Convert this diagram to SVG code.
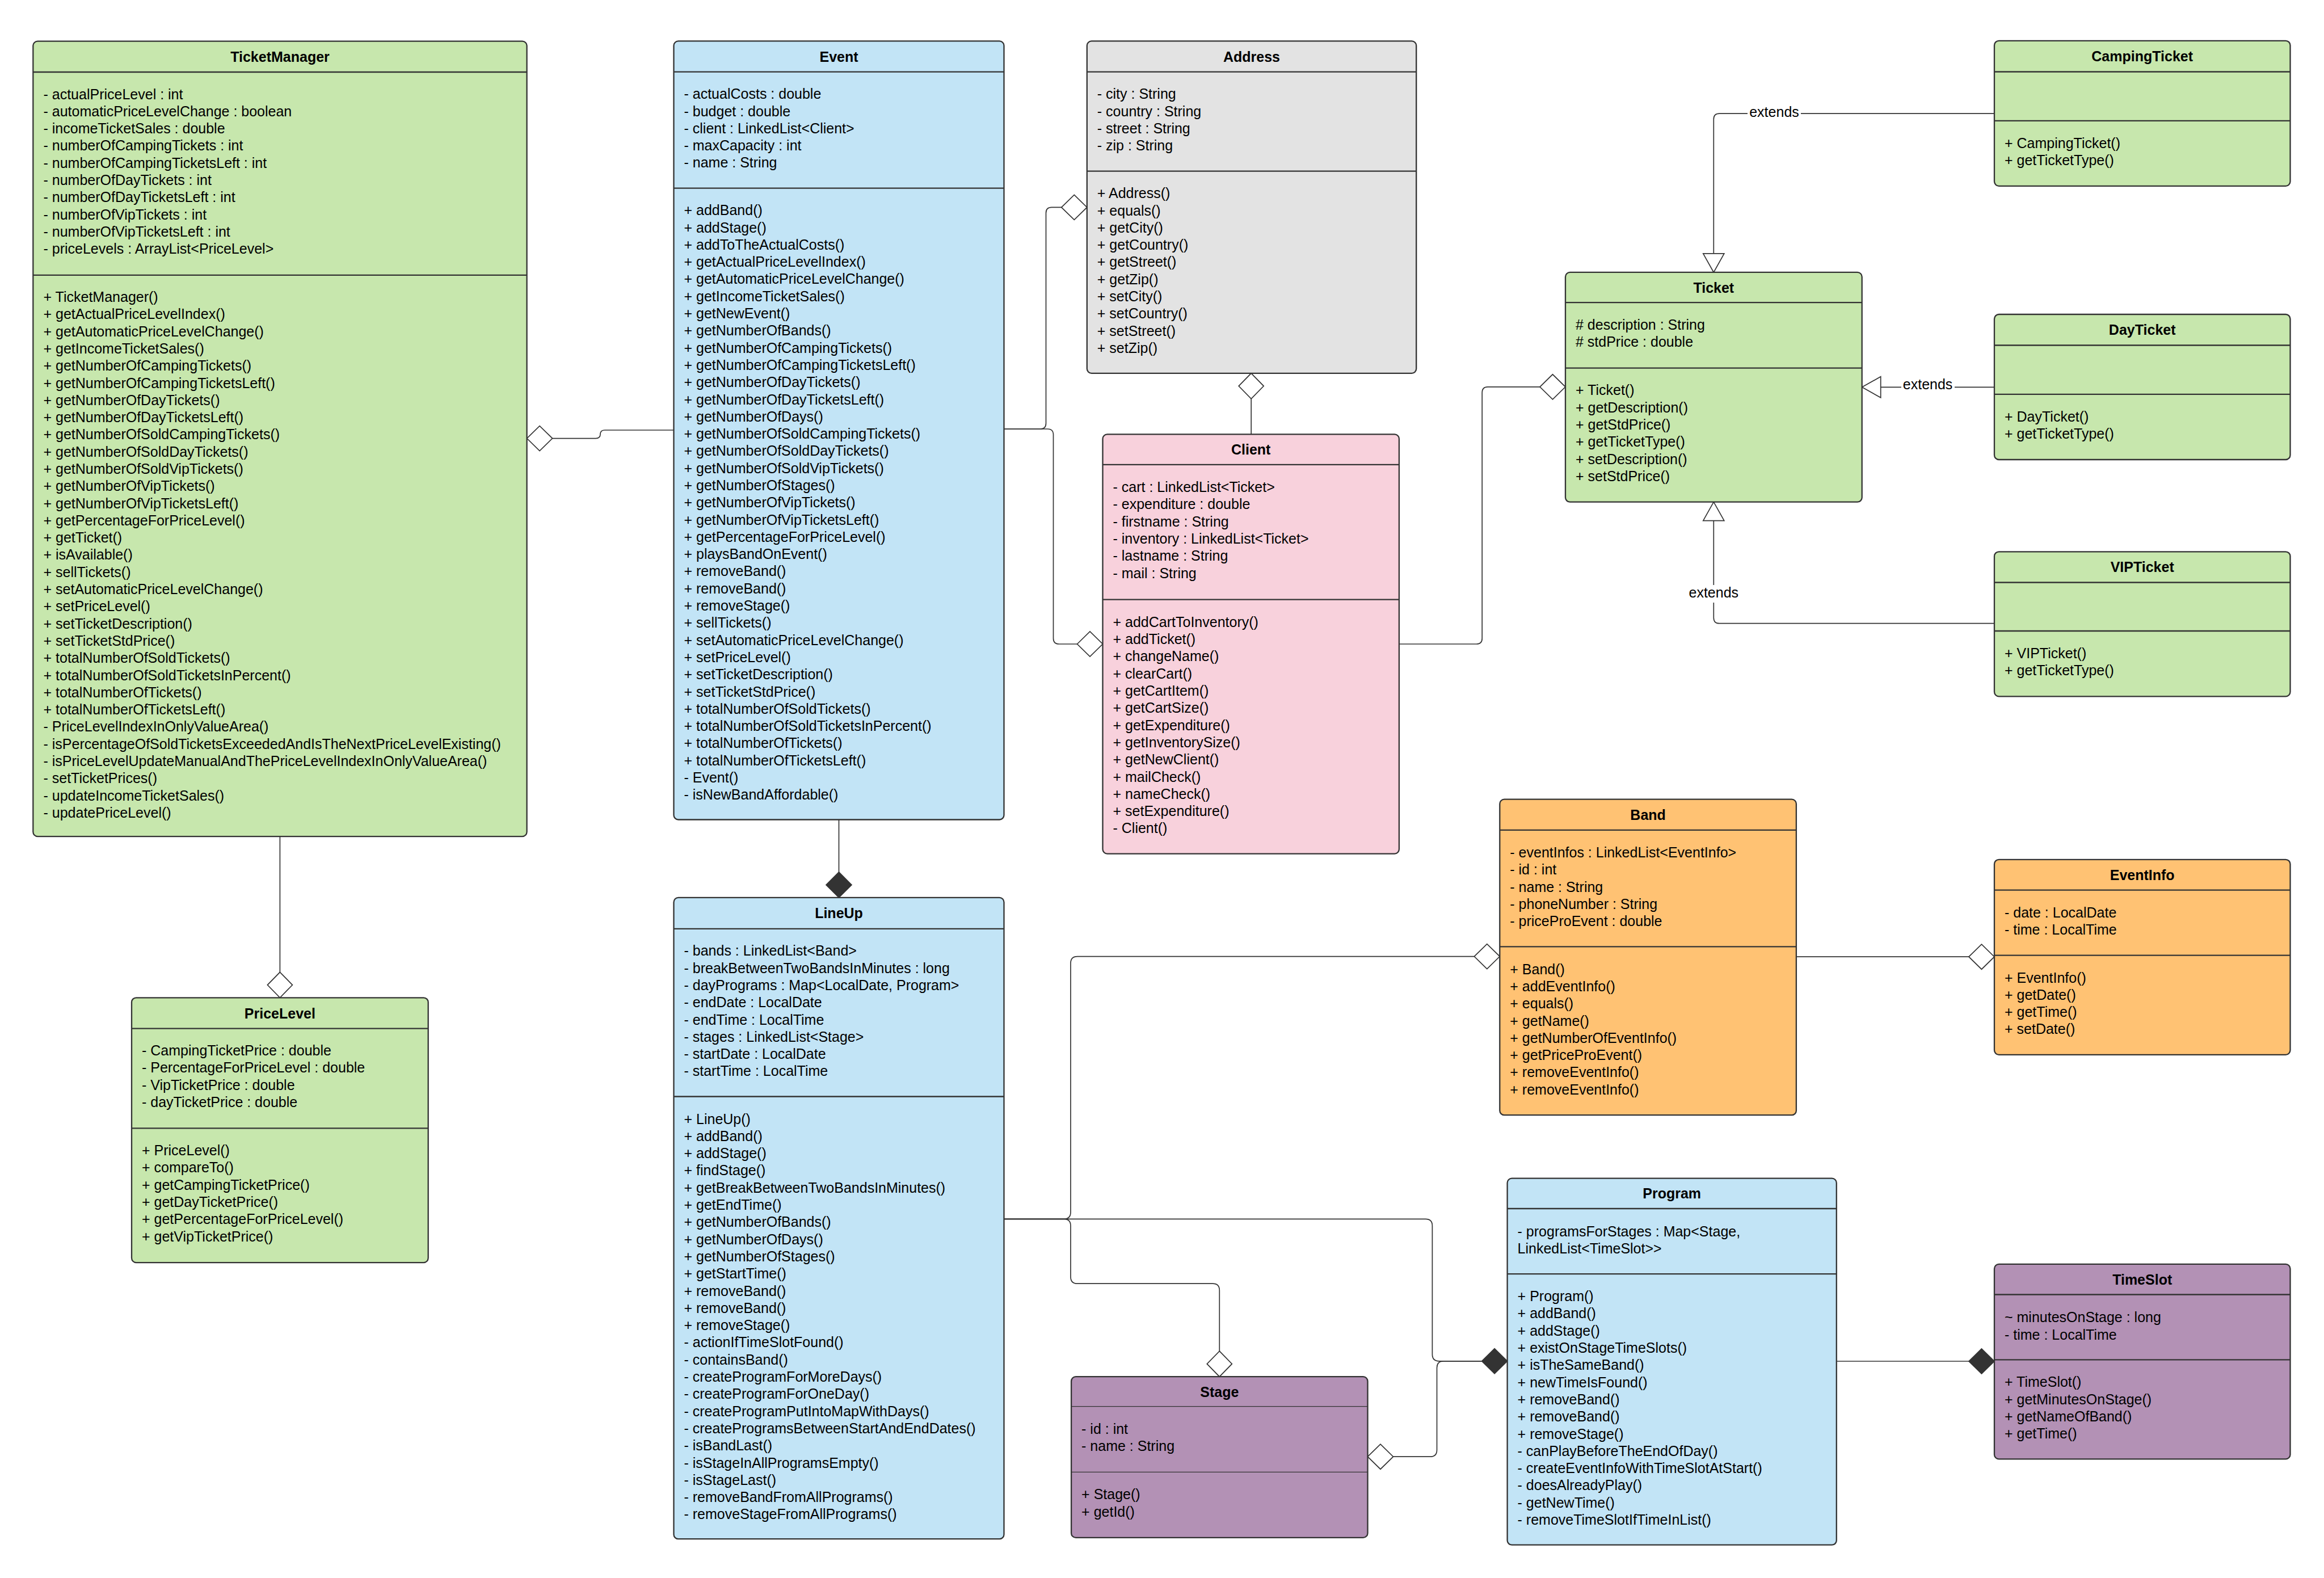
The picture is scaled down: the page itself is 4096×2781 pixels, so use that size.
<svg xmlns="http://www.w3.org/2000/svg" width="4096" height="2781" viewBox="0 0 4096 2781">
<style>
.box{stroke:#333;stroke-width:2.3}
.sep{stroke:#333;stroke-width:2.3}
.thin{stroke:#333;stroke-width:1.2}
.green{fill:#C7E7AD}
.blue{fill:#C2E4F6}
.gray{fill:#E3E3E3}
.pink{fill:#F8D1DC}
.orange{fill:#FFC273}
.purple{fill:#B391B5}
text{font-family:"Liberation Sans",Arial,Helvetica,sans-serif;font-size:25px;fill:#000}
.title{font-weight:bold;text-anchor:middle}
.lbl{text-anchor:middle}
.conn{fill:none;stroke:#333;stroke-width:1.7}
.hollow{fill:#fff;stroke:#333;stroke-width:1.7}
.filled{fill:#333;stroke:#333;stroke-width:1.7}
</style>
<rect x="0" y="0" width="4096" height="2781" fill="#fff"/>

<g id="connectors">
<path class="conn" d="M973.6,772.6 H1050 Q1058,772.6 1058,765.3 Q1058,758 1066,758 H1187.5"/>
<polygon class="hollow" points="928.6,772.6 951.1,750.6 973.6,772.6 951.1,794.6"/>
<path class="conn" d="M1769.5,756 H1833.5 Q1843.5,756 1843.5,746 V375.4 Q1843.5,365.4 1853.5,365.4 H1870.8"/>
<polygon class="hollow" points="1870.8,365.4 1893.3,343.4 1915.8,365.4 1893.3,387.4"/>
<path class="conn" d="M1769.5,756 H1846.5 Q1856.5,756 1856.5,766 V1125 Q1856.5,1135 1866.5,1135 H1898.5"/>
<polygon class="hollow" points="1898.5,1135 1921,1113 1943.5,1135 1921,1157"/>
<path class="conn" d="M2205.2,702.8 V765.4"/>
<polygon class="hollow" points="2205.2,657.8 2227.2,680.3 2205.2,702.8 2183.2,680.3"/>
<path class="conn" d="M2465.9,1135 H2602.2 Q2612.2,1135 2612.2,1125 V691.8 Q2612.2,681.8 2622.2,681.8 H2714"/>
<polygon class="hollow" points="2714,681.8 2736.5,659.8 2759,681.8 2736.5,703.8"/>
<path class="conn" d="M3515,200.1 H3030.3 Q3020.3,200.1 3020.3,210.1 V446.9"/>
<polygon class="hollow" points="3001.8,446.9 3038.8,446.9 3020.3,479.9"/>
<rect x="3080" y="186" width="94" height="28" fill="#fff"/>
<text class="lbl" x="3127" y="205.5">extends</text>
<path class="conn" d="M3515,682.3 H3314.7"/>
<polygon class="hollow" points="3314.7,663.8 3314.7,700.8 3281.7,682.3"/>
<rect x="3351" y="668" width="94" height="28" fill="#fff"/>
<text class="lbl" x="3397.6" y="686.4">extends</text>
<path class="conn" d="M3515,1098.7 H3030.3 Q3020.3,1098.7 3020.3,1088.7 V917.7"/>
<polygon class="hollow" points="3001.8,917.7 3038.8,917.7 3020.3,884.7"/>
<rect x="2973" y="1031" width="95" height="31" fill="#fff"/>
<text class="lbl" x="3020.3" y="1053.4">extends</text>
<path class="conn" d="M493.4,1474.1 V1713.3"/>
<polygon class="hollow" points="493.4,1713.3 515.4,1735.8 493.4,1758.3 471.4,1735.8"/>
<path class="conn" d="M1478.5,1444.5 V1536.9"/>
<polygon class="filled" points="1478.5,1536.9 1501,1559.4 1478.5,1581.9 1456,1559.4"/>
<path class="conn" d="M1769.5,2148.3 H1875 Q1887,2148.3 1887,2136.3 V1697.6 Q1887,1685.6 1899,1685.6 H2598.3"/>
<polygon class="hollow" points="2598.3,1685.6 2620.8,1663.6 2643.3,1685.6 2620.8,1707.6"/>
<path class="conn" d="M1769.5,2148.3 H1875 Q1887,2148.3 1887,2160.3 V2250.2 Q1887,2262.2 1899,2262.2 H2137.3 Q2149.3,2262.2 2149.3,2274.2 V2381.2"/>
<polygon class="hollow" points="2149.3,2381.2 2171.3,2403.7 2149.3,2426.2 2127.3,2403.7"/>
<path class="conn" d="M1769.5,2148.3 H2512.4 Q2524.4,2148.3 2524.4,2160.3 V2386.8 Q2524.4,2398.8 2536.4,2398.8 H2611.6"/>
<path class="conn" d="M2455.5,2567.2 H2520.5 Q2532.5,2567.2 2532.5,2555.2 V2410.8 Q2532.5,2398.8 2544.5,2398.8 H2611.6"/>
<polygon class="hollow" points="2410.5,2567.2 2433,2545.2 2455.5,2567.2 2433,2589.2"/>
<polygon class="filled" points="2611.6,2398.8 2634.1,2376.8 2656.6,2398.8 2634.1,2420.8"/>
<path class="conn" d="M3165.9,1686.2 H3470"/>
<polygon class="hollow" points="3470,1686.2 3492.5,1664.2 3515,1686.2 3492.5,1708.2"/>
<path class="conn" d="M3236.8,2399 H3470"/>
<polygon class="filled" points="3470,2399 3492.5,2377 3515,2399 3492.5,2421"/>
</g>

<g id="TicketManager">
<rect class="box green" x="58.3" y="72.6" width="870.3" height="1401.5" rx="8"/>
<line class="sep" x1="58.3" y1="127" x2="928.6" y2="127"/>
<line class="sep" x1="58.3" y1="484.8" x2="928.6" y2="484.8"/>
<text class="title" x="493.5" y="108.8">TicketManager</text>
<text x="76.5" y="174.5"><tspan x="76.5">- actualPriceLevel : int</tspan><tspan x="76.5" dy="30.3">- automaticPriceLevelChange : boolean</tspan><tspan x="76.5" dy="30.3">- incomeTicketSales : double</tspan><tspan x="76.5" dy="30.3">- numberOfCampingTickets : int</tspan><tspan x="76.5" dy="30.3">- numberOfCampingTicketsLeft : int</tspan><tspan x="76.5" dy="30.3">- numberOfDayTickets : int</tspan><tspan x="76.5" dy="30.3">- numberOfDayTicketsLeft : int</tspan><tspan x="76.5" dy="30.3">- numberOfVipTickets : int</tspan><tspan x="76.5" dy="30.3">- numberOfVipTicketsLeft : int</tspan><tspan x="76.5" dy="30.3">- priceLevels : ArrayList&lt;PriceLevel&gt;</tspan></text>
<text x="76.5" y="532"><tspan x="76.5">+ TicketManager()</tspan><tspan x="76.5" dy="30.3">+ getActualPriceLevelIndex()</tspan><tspan x="76.5" dy="30.3">+ getAutomaticPriceLevelChange()</tspan><tspan x="76.5" dy="30.3">+ getIncomeTicketSales()</tspan><tspan x="76.5" dy="30.3">+ getNumberOfCampingTickets()</tspan><tspan x="76.5" dy="30.3">+ getNumberOfCampingTicketsLeft()</tspan><tspan x="76.5" dy="30.3">+ getNumberOfDayTickets()</tspan><tspan x="76.5" dy="30.3">+ getNumberOfDayTicketsLeft()</tspan><tspan x="76.5" dy="30.3">+ getNumberOfSoldCampingTickets()</tspan><tspan x="76.5" dy="30.3">+ getNumberOfSoldDayTickets()</tspan><tspan x="76.5" dy="30.3">+ getNumberOfSoldVipTickets()</tspan><tspan x="76.5" dy="30.3">+ getNumberOfVipTickets()</tspan><tspan x="76.5" dy="30.3">+ getNumberOfVipTicketsLeft()</tspan><tspan x="76.5" dy="30.3">+ getPercentageForPriceLevel()</tspan><tspan x="76.5" dy="30.3">+ getTicket()</tspan><tspan x="76.5" dy="30.3">+ isAvailable()</tspan><tspan x="76.5" dy="30.3">+ sellTickets()</tspan><tspan x="76.5" dy="30.3">+ setAutomaticPriceLevelChange()</tspan><tspan x="76.5" dy="30.3">+ setPriceLevel()</tspan><tspan x="76.5" dy="30.3">+ setTicketDescription()</tspan><tspan x="76.5" dy="30.3">+ setTicketStdPrice()</tspan><tspan x="76.5" dy="30.3">+ totalNumberOfSoldTickets()</tspan><tspan x="76.5" dy="30.3">+ totalNumberOfSoldTicketsInPercent()</tspan><tspan x="76.5" dy="30.3">+ totalNumberOfTickets()</tspan><tspan x="76.5" dy="30.3">+ totalNumberOfTicketsLeft()</tspan><tspan x="76.5" dy="30.3">- PriceLevelIndexInOnlyValueArea()</tspan><tspan x="76.5" dy="30.3">- isPercentageOfSoldTicketsExceededAndIsTheNextPriceLevelExisting()</tspan><tspan x="76.5" dy="30.3">- isPriceLevelUpdateManualAndThePriceLevelIndexInOnlyValueArea()</tspan><tspan x="76.5" dy="30.3">- setTicketPrices()</tspan><tspan x="76.5" dy="30.3">- updateIncomeTicketSales()</tspan><tspan x="76.5" dy="30.3">- updatePriceLevel()</tspan></text>
</g>

<g id="PriceLevel">
<rect class="box green" x="232" y="1758.3" width="522.7" height="466.8" rx="8"/>
<line class="sep" x1="232" y1="1812.6" x2="754.7" y2="1812.6"/>
<line class="sep" x1="232" y1="1988.4" x2="754.7" y2="1988.4"/>
<text class="title" x="493.4" y="1794.5">PriceLevel</text>
<text x="250" y="1860"><tspan x="250">- CampingTicketPrice : double</tspan><tspan x="250" dy="30.3">- PercentageForPriceLevel : double</tspan><tspan x="250" dy="30.3">- VipTicketPrice : double</tspan><tspan x="250" dy="30.3">- dayTicketPrice : double</tspan></text>
<text x="250" y="2036.1"><tspan x="250">+ PriceLevel()</tspan><tspan x="250" dy="30.3">+ compareTo()</tspan><tspan x="250" dy="30.3">+ getCampingTicketPrice()</tspan><tspan x="250" dy="30.3">+ getDayTicketPrice()</tspan><tspan x="250" dy="30.3">+ getPercentageForPriceLevel()</tspan><tspan x="250" dy="30.3">+ getVipTicketPrice()</tspan></text>
</g>

<g id="Event">
<rect class="box blue" x="1187.5" y="72.4" width="582" height="1372.1" rx="8"/>
<line class="sep" x1="1187.5" y1="126.7" x2="1769.5" y2="126.7"/>
<line class="sep" x1="1187.5" y1="331.7" x2="1769.5" y2="331.7"/>
<text class="title" x="1478.5" y="108.5">Event</text>
<text x="1205.5" y="174.2"><tspan x="1205.5">- actualCosts : double</tspan><tspan x="1205.5" dy="30.3">- budget : double</tspan><tspan x="1205.5" dy="30.3">- client : LinkedList&lt;Client&gt;</tspan><tspan x="1205.5" dy="30.3">- maxCapacity : int</tspan><tspan x="1205.5" dy="30.3">- name : String</tspan></text>
<text x="1205.5" y="379.2"><tspan x="1205.5">+ addBand()</tspan><tspan x="1205.5" dy="30.3">+ addStage()</tspan><tspan x="1205.5" dy="30.3">+ addToTheActualCosts()</tspan><tspan x="1205.5" dy="30.3">+ getActualPriceLevelIndex()</tspan><tspan x="1205.5" dy="30.3">+ getAutomaticPriceLevelChange()</tspan><tspan x="1205.5" dy="30.3">+ getIncomeTicketSales()</tspan><tspan x="1205.5" dy="30.3">+ getNewEvent()</tspan><tspan x="1205.5" dy="30.3">+ getNumberOfBands()</tspan><tspan x="1205.5" dy="30.3">+ getNumberOfCampingTickets()</tspan><tspan x="1205.5" dy="30.3">+ getNumberOfCampingTicketsLeft()</tspan><tspan x="1205.5" dy="30.3">+ getNumberOfDayTickets()</tspan><tspan x="1205.5" dy="30.3">+ getNumberOfDayTicketsLeft()</tspan><tspan x="1205.5" dy="30.3">+ getNumberOfDays()</tspan><tspan x="1205.5" dy="30.3">+ getNumberOfSoldCampingTickets()</tspan><tspan x="1205.5" dy="30.3">+ getNumberOfSoldDayTickets()</tspan><tspan x="1205.5" dy="30.3">+ getNumberOfSoldVipTickets()</tspan><tspan x="1205.5" dy="30.3">+ getNumberOfStages()</tspan><tspan x="1205.5" dy="30.3">+ getNumberOfVipTickets()</tspan><tspan x="1205.5" dy="30.3">+ getNumberOfVipTicketsLeft()</tspan><tspan x="1205.5" dy="30.3">+ getPercentageForPriceLevel()</tspan><tspan x="1205.5" dy="30.3">+ playsBandOnEvent()</tspan><tspan x="1205.5" dy="30.3">+ removeBand()</tspan><tspan x="1205.5" dy="30.3">+ removeBand()</tspan><tspan x="1205.5" dy="30.3">+ removeStage()</tspan><tspan x="1205.5" dy="30.3">+ sellTickets()</tspan><tspan x="1205.5" dy="30.3">+ setAutomaticPriceLevelChange()</tspan><tspan x="1205.5" dy="30.3">+ setPriceLevel()</tspan><tspan x="1205.5" dy="30.3">+ setTicketDescription()</tspan><tspan x="1205.5" dy="30.3">+ setTicketStdPrice()</tspan><tspan x="1205.5" dy="30.3">+ totalNumberOfSoldTickets()</tspan><tspan x="1205.5" dy="30.3">+ totalNumberOfSoldTicketsInPercent()</tspan><tspan x="1205.5" dy="30.3">+ totalNumberOfTickets()</tspan><tspan x="1205.5" dy="30.3">+ totalNumberOfTicketsLeft()</tspan><tspan x="1205.5" dy="30.3">- Event()</tspan><tspan x="1205.5" dy="30.3">- isNewBandAffordable()</tspan></text>
</g>

<g id="Address">
<rect class="box gray" x="1915.8" y="72.4" width="580.4" height="585.4" rx="8"/>
<line class="sep" x1="1915.8" y1="126.7" x2="2496.2" y2="126.7"/>
<line class="sep" x1="1915.8" y1="301.7" x2="2496.2" y2="301.7"/>
<text class="title" x="2206" y="108.5">Address</text>
<text x="1933.8" y="174.2"><tspan x="1933.8">- city : String</tspan><tspan x="1933.8" dy="30.3">- country : String</tspan><tspan x="1933.8" dy="30.3">- street : String</tspan><tspan x="1933.8" dy="30.3">- zip : String</tspan></text>
<text x="1933.8" y="349.2"><tspan x="1933.8">+ Address()</tspan><tspan x="1933.8" dy="30.3">+ equals()</tspan><tspan x="1933.8" dy="30.3">+ getCity()</tspan><tspan x="1933.8" dy="30.3">+ getCountry()</tspan><tspan x="1933.8" dy="30.3">+ getStreet()</tspan><tspan x="1933.8" dy="30.3">+ getZip()</tspan><tspan x="1933.8" dy="30.3">+ setCity()</tspan><tspan x="1933.8" dy="30.3">+ setCountry()</tspan><tspan x="1933.8" dy="30.3">+ setStreet()</tspan><tspan x="1933.8" dy="30.3">+ setZip()</tspan></text>
</g>

<g id="Client">
<rect class="box pink" x="1943.5" y="765.4" width="522.4" height="739.2" rx="8"/>
<line class="sep" x1="1943.5" y1="818.9" x2="2465.9" y2="818.9"/>
<line class="sep" x1="1943.5" y1="1056.6" x2="2465.9" y2="1056.6"/>
<text class="title" x="2204.7" y="801">Client</text>
<text x="1961.5" y="867.1"><tspan x="1961.5">- cart : LinkedList&lt;Ticket&gt;</tspan><tspan x="1961.5" dy="30.3">- expenditure : double</tspan><tspan x="1961.5" dy="30.3">- firstname : String</tspan><tspan x="1961.5" dy="30.3">- inventory : LinkedList&lt;Ticket&gt;</tspan><tspan x="1961.5" dy="30.3">- lastname : String</tspan><tspan x="1961.5" dy="30.3">- mail : String</tspan></text>
<text x="1961.5" y="1104.8"><tspan x="1961.5">+ addCartToInventory()</tspan><tspan x="1961.5" dy="30.3">+ addTicket()</tspan><tspan x="1961.5" dy="30.3">+ changeName()</tspan><tspan x="1961.5" dy="30.3">+ clearCart()</tspan><tspan x="1961.5" dy="30.3">+ getCartItem()</tspan><tspan x="1961.5" dy="30.3">+ getCartSize()</tspan><tspan x="1961.5" dy="30.3">+ getExpenditure()</tspan><tspan x="1961.5" dy="30.3">+ getInventorySize()</tspan><tspan x="1961.5" dy="30.3">+ getNewClient()</tspan><tspan x="1961.5" dy="30.3">+ mailCheck()</tspan><tspan x="1961.5" dy="30.3">+ nameCheck()</tspan><tspan x="1961.5" dy="30.3">+ setExpenditure()</tspan><tspan x="1961.5" dy="30.3">- Client()</tspan></text>
</g>

<g id="Ticket">
<rect class="box green" x="2759" y="479.9" width="522.7" height="404.8" rx="8"/>
<line class="sep" x1="2759" y1="533.1" x2="3281.7" y2="533.1"/>
<line class="sep" x1="2759" y1="648.6" x2="3281.7" y2="648.6"/>
<text class="title" x="3020.3" y="515.5">Ticket</text>
<text x="2777" y="581.1"><tspan x="2777"># description : String</tspan><tspan x="2777" dy="30.3"># stdPrice : double</tspan></text>
<text x="2777" y="696.3"><tspan x="2777">+ Ticket()</tspan><tspan x="2777" dy="30.3">+ getDescription()</tspan><tspan x="2777" dy="30.3">+ getStdPrice()</tspan><tspan x="2777" dy="30.3">+ getTicketType()</tspan><tspan x="2777" dy="30.3">+ setDescription()</tspan><tspan x="2777" dy="30.3">+ setStdPrice()</tspan></text>
</g>

<g id="CampingTicket">
<rect class="box green" x="3515" y="71.8" width="521.5" height="256" rx="8"/>
<line class="sep" x1="3515" y1="126.5" x2="4036.5" y2="126.5"/>
<line class="sep" x1="3515" y1="212.8" x2="4036.5" y2="212.8"/>
<text class="title" x="3775.7" y="108.2">CampingTicket</text>
<text x="3533" y="260.8"><tspan x="3533">+ CampingTicket()</tspan><tspan x="3533" dy="30.3">+ getTicketType()</tspan></text>
</g>

<g id="DayTicket">
<rect class="box green" x="3515" y="554" width="521.5" height="256" rx="8"/>
<line class="sep" x1="3515" y1="608.5" x2="4036.5" y2="608.5"/>
<line class="sep" x1="3515" y1="694.8" x2="4036.5" y2="694.8"/>
<text class="title" x="3775.7" y="590.2">DayTicket</text>
<text x="3533" y="742.8"><tspan x="3533">+ DayTicket()</tspan><tspan x="3533" dy="30.3">+ getTicketType()</tspan></text>
</g>

<g id="VIPTicket">
<rect class="box green" x="3515" y="972.3" width="521.5" height="255" rx="8"/>
<line class="sep" x1="3515" y1="1026.5" x2="4036.5" y2="1026.5"/>
<line class="sep" x1="3515" y1="1112" x2="4036.5" y2="1112"/>
<text class="title" x="3775.7" y="1008.4">VIPTicket</text>
<text x="3533" y="1159.7"><tspan x="3533">+ VIPTicket()</tspan><tspan x="3533" dy="30.3">+ getTicketType()</tspan></text>
</g>

<g id="Band">
<rect class="box orange" x="2643.3" y="1408.7" width="522.6" height="556.5" rx="8"/>
<line class="sep" x1="2643.3" y1="1462.8" x2="3165.9" y2="1462.8"/>
<line class="sep" x1="2643.3" y1="1668.4" x2="3165.9" y2="1668.4"/>
<text class="title" x="2904.6" y="1444.7">Band</text>
<text x="2661.3" y="1511"><tspan x="2661.3">- eventInfos : LinkedList&lt;EventInfo&gt;</tspan><tspan x="2661.3" dy="30.3">- id : int</tspan><tspan x="2661.3" dy="30.3">- name : String</tspan><tspan x="2661.3" dy="30.3">- phoneNumber : String</tspan><tspan x="2661.3" dy="30.3">- priceProEvent : double</tspan></text>
<text x="2661.3" y="1716.6"><tspan x="2661.3">+ Band()</tspan><tspan x="2661.3" dy="30.3">+ addEventInfo()</tspan><tspan x="2661.3" dy="30.3">+ equals()</tspan><tspan x="2661.3" dy="30.3">+ getName()</tspan><tspan x="2661.3" dy="30.3">+ getNumberOfEventInfo()</tspan><tspan x="2661.3" dy="30.3">+ getPriceProEvent()</tspan><tspan x="2661.3" dy="30.3">+ removeEventInfo()</tspan><tspan x="2661.3" dy="30.3">+ removeEventInfo()</tspan></text>
</g>

<g id="EventInfo">
<rect class="box orange" x="3515" y="1514.8" width="521.5" height="344" rx="8"/>
<line class="sep" x1="3515" y1="1568.6" x2="4036.5" y2="1568.6"/>
<line class="sep" x1="3515" y1="1683.6" x2="4036.5" y2="1683.6"/>
<text class="title" x="3775.7" y="1550.7">EventInfo</text>
<text x="3533" y="1616.8"><tspan x="3533">- date : LocalDate</tspan><tspan x="3533" dy="30.3">- time : LocalTime</tspan></text>
<text x="3533" y="1731.5"><tspan x="3533">+ EventInfo()</tspan><tspan x="3533" dy="30.3">+ getDate()</tspan><tspan x="3533" dy="30.3">+ getTime()</tspan><tspan x="3533" dy="30.3">+ setDate()</tspan></text>
</g>

<g id="LineUp">
<rect class="box blue" x="1187.5" y="1581.9" width="582" height="1130.3" rx="8"/>
<line class="sep" x1="1187.5" y1="1636.8" x2="1769.5" y2="1636.8"/>
<line class="sep" x1="1187.5" y1="1932.5" x2="1769.5" y2="1932.5"/>
<text class="title" x="1478.5" y="1618.4">LineUp</text>
<text x="1205.5" y="1684.3"><tspan x="1205.5">- bands : LinkedList&lt;Band&gt;</tspan><tspan x="1205.5" dy="30.3">- breakBetweenTwoBandsInMinutes : long</tspan><tspan x="1205.5" dy="30.3">- dayPrograms : Map&lt;LocalDate, Program&gt;</tspan><tspan x="1205.5" dy="30.3">- endDate : LocalDate</tspan><tspan x="1205.5" dy="30.3">- endTime : LocalTime</tspan><tspan x="1205.5" dy="30.3">- stages : LinkedList&lt;Stage&gt;</tspan><tspan x="1205.5" dy="30.3">- startDate : LocalDate</tspan><tspan x="1205.5" dy="30.3">- startTime : LocalTime</tspan></text>
<text x="1205.5" y="1980.5"><tspan x="1205.5">+ LineUp()</tspan><tspan x="1205.5" dy="30.3">+ addBand()</tspan><tspan x="1205.5" dy="30.3">+ addStage()</tspan><tspan x="1205.5" dy="30.3">+ findStage()</tspan><tspan x="1205.5" dy="30.3">+ getBreakBetweenTwoBandsInMinutes()</tspan><tspan x="1205.5" dy="30.3">+ getEndTime()</tspan><tspan x="1205.5" dy="30.3">+ getNumberOfBands()</tspan><tspan x="1205.5" dy="30.3">+ getNumberOfDays()</tspan><tspan x="1205.5" dy="30.3">+ getNumberOfStages()</tspan><tspan x="1205.5" dy="30.3">+ getStartTime()</tspan><tspan x="1205.5" dy="30.3">+ removeBand()</tspan><tspan x="1205.5" dy="30.3">+ removeBand()</tspan><tspan x="1205.5" dy="30.3">+ removeStage()</tspan><tspan x="1205.5" dy="30.3">- actionIfTimeSlotFound()</tspan><tspan x="1205.5" dy="30.3">- containsBand()</tspan><tspan x="1205.5" dy="30.3">- createProgramForMoreDays()</tspan><tspan x="1205.5" dy="30.3">- createProgramForOneDay()</tspan><tspan x="1205.5" dy="30.3">- createProgramPutIntoMapWithDays()</tspan><tspan x="1205.5" dy="30.3">- createProgramsBetweenStartAndEndDates()</tspan><tspan x="1205.5" dy="30.3">- isBandLast()</tspan><tspan x="1205.5" dy="30.3">- isStageInAllProgramsEmpty()</tspan><tspan x="1205.5" dy="30.3">- isStageLast()</tspan><tspan x="1205.5" dy="30.3">- removeBandFromAllPrograms()</tspan><tspan x="1205.5" dy="30.3">- removeStageFromAllPrograms()</tspan></text>
</g>

<g id="Stage">
<rect class="box purple" x="1888.1" y="2426.2" width="522.4" height="283.7" rx="8"/>
<line class="thin" x1="1888.1" y1="2478.7" x2="2410.5" y2="2478.7"/>
<line class="thin" x1="1888.1" y1="2594.4" x2="2410.5" y2="2594.4"/>
<text class="title" x="2149.3" y="2461.5">Stage</text>
<text x="1906.1" y="2526.5"><tspan x="1906.1">- id : int</tspan><tspan x="1906.1" dy="30.8">- name : String</tspan></text>
<text x="1906.1" y="2642.1"><tspan x="1906.1">+ Stage()</tspan><tspan x="1906.1" dy="30.8">+ getId()</tspan></text>
</g>

<g id="Program">
<rect class="box blue" x="2656.6" y="2076.7" width="580.2" height="646" rx="8"/>
<line class="sep" x1="2656.6" y1="2130" x2="3236.8" y2="2130"/>
<line class="sep" x1="2656.6" y1="2245.2" x2="3236.8" y2="2245.2"/>
<text class="title" x="2946.7" y="2112.4">Program</text>
<text x="2674.6" y="2179"><tspan x="2674.6">- programsForStages : Map&lt;Stage,</tspan><tspan x="2674.6" dy="30.3">LinkedList&lt;TimeSlot&gt;&gt;</tspan></text>
<text x="2674.6" y="2293.1"><tspan x="2674.6">+ Program()</tspan><tspan x="2674.6" dy="30.3">+ addBand()</tspan><tspan x="2674.6" dy="30.3">+ addStage()</tspan><tspan x="2674.6" dy="30.3">+ existOnStageTimeSlots()</tspan><tspan x="2674.6" dy="30.3">+ isTheSameBand()</tspan><tspan x="2674.6" dy="30.3">+ newTimeIsFound()</tspan><tspan x="2674.6" dy="30.3">+ removeBand()</tspan><tspan x="2674.6" dy="30.3">+ removeBand()</tspan><tspan x="2674.6" dy="30.3">+ removeStage()</tspan><tspan x="2674.6" dy="30.3">- canPlayBeforeTheEndOfDay()</tspan><tspan x="2674.6" dy="30.3">- createEventInfoWithTimeSlotAtStart()</tspan><tspan x="2674.6" dy="30.3">- doesAlreadyPlay()</tspan><tspan x="2674.6" dy="30.3">- getNewTime()</tspan><tspan x="2674.6" dy="30.3">- removeTimeSlotIfTimeInList()</tspan></text>
</g>

<g id="TimeSlot">
<rect class="box purple" x="3515" y="2227.9" width="521.5" height="343.5" rx="8"/>
<line class="sep" x1="3515" y1="2281.5" x2="4036.5" y2="2281.5"/>
<line class="sep" x1="3515" y1="2396.4" x2="4036.5" y2="2396.4"/>
<text class="title" x="3775.7" y="2263.7">TimeSlot</text>
<text x="3533" y="2330.2"><tspan x="3533">~ minutesOnStage : long</tspan><tspan x="3533" dy="30.3">- time : LocalTime</tspan></text>
<text x="3533" y="2444.4"><tspan x="3533">+ TimeSlot()</tspan><tspan x="3533" dy="30.3">+ getMinutesOnStage()</tspan><tspan x="3533" dy="30.3">+ getNameOfBand()</tspan><tspan x="3533" dy="30.3">+ getTime()</tspan></text>
</g>
</svg>
